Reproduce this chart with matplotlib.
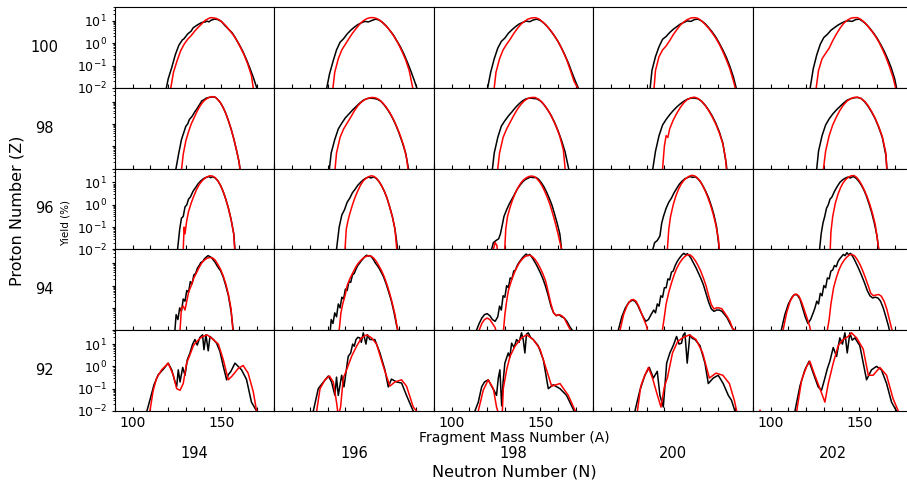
import matplotlib
matplotlib.use('Agg')
import matplotlib.pyplot as plt
from matplotlib.ticker import MultipleLocator, LogLocator, NullFormatter

proton_numbers = [100, 98, 96, 94, 92]
neutron_numbers = [194, 196, 198, 200, 202]
xtick_labels = ['100', '150']

# yields (%) vs fragment mass A, black = measured-like curve, red = second curve
z100_n194_black = [[119, 0.01], [120, 0.025], [122, 0.08], [124, 0.3], [126, 0.8], [128, 1.4], [129, 1.6], [131, 2.6],
                   [133, 3.5], [134, 4.8], [135, 5.5], [137, 7], [139, 8.5], [141, 9], [142, 9.8], [143, 9],
                   [144, 10.5], [146, 12], [148, 11.5], [150, 9.5], [152, 6.2], [154, 4.3], [156, 3.0], [158, 1.7],
                   [160, 0.9], [162, 0.45], [164, 0.2], [166, 0.08], [168, 0.03], [170, 0.01]]
z100_n194_red = [[121.5, 0.01], [123, 0.05], [125, 0.16], [127, 0.45], [129, 0.9], [131, 1.5], [133, 2.2], [135, 3.5],
                 [137, 5.2], [139, 7.5], [141, 10.7], [143, 13], [144, 14], [146, 13.5], [147, 13], [149, 11],
                 [151, 8], [153, 5.5], [155, 3.5], [157, 2.2], [159, 1.2], [161, 0.6], [163, 0.28], [165, 0.11],
                 [167, 0.035], [168, 0.01]]
z100_n196_black = [[119.5, 0.01], [121, 0.04], [123, 0.15], [125, 0.5], [127, 1.1], [129, 1.6], [131, 2.6], [133, 3.8],
                   [135, 5.2], [137, 6.8], [139, 8.2], [141, 9.5], [143, 9], [145, 10.5], [147, 12], [149, 11],
                   [151, 8.5], [153, 6], [155, 3.8], [157, 2.4], [159, 1.3], [161, 0.7], [163, 0.33], [165, 0.14],
                   [167, 0.055], [169, 0.02], [170.3, 0.01]]
z100_n196_red = [[123, 0.01], [124, 0.05], [126, 0.2], [128, 0.5], [130, 0.9], [132, 1.6], [134, 2.8], [136, 4.5],
                 [138, 7], [140, 10], [142, 12.5], [144, 14], [146, 14], [148, 12.5], [150, 10], [152, 7],
                 [154, 4.8], [156, 3], [158, 1.7], [160, 0.9], [162, 0.42], [164, 0.18], [166, 0.06], [168, 0.01]]
z100_n198_black = [[120.3, 0.01], [122, 0.05], [124, 0.2], [126, 0.6], [128, 1.2], [130, 1.7], [132, 2.8], [134, 4],
                   [136, 5.5], [138, 7.2], [140, 8.5], [142, 9.8], [144, 9.2], [146, 11], [148, 12], [150, 10.5],
                   [152, 8], [154, 5.5], [156, 3.5], [158, 2.1], [160, 1.2], [162, 0.6], [164, 0.28], [166, 0.12],
                   [168, 0.045], [170, 0.018], [171.4, 0.01]]
z100_n198_red = [[124, 0.01], [125, 0.05], [127, 0.2], [129, 0.5], [131, 0.9], [133, 1.5], [135, 2.7], [137, 4.5],
                 [139, 7], [141, 9.5], [143, 12], [145, 13.5], [147, 14], [149, 12.5], [151, 9.5], [153, 6.8],
                 [155, 4.5], [157, 2.8], [159, 1.6], [161, 0.85], [163, 0.4], [165, 0.17], [167, 0.06],
                 [169, 0.02], [171, 0.01]]
z100_n200_black = [[122, 0.01], [123, 0.06], [125, 0.25], [127, 0.7], [129, 1.5], [131, 2], [133, 3], [135, 4.2],
                   [137, 5.5], [139, 7.2], [141, 8.5], [143, 10], [145, 9.5], [147, 11.5], [149, 12], [151, 10],
                   [153, 7.5], [155, 5], [157, 3.2], [159, 1.9], [161, 1.0], [163, 0.5], [165, 0.23], [167, 0.09],
                   [169, 0.03], [170.5, 0.01]]
z100_n200_red = [[124.2, 0.01], [125, 0.06], [127, 0.25], [129, 0.5], [131, 0.75], [133, 1.3], [135, 2.4], [137, 4],
                 [139, 6.5], [141, 9], [143, 11.5], [145, 13.5], [147, 14], [149, 13], [151, 10], [153, 7],
                 [155, 4.7], [157, 2.9], [159, 1.7], [161, 0.9], [163, 0.42], [165, 0.18], [167, 0.07],
                 [169, 0.02], [170, 0.01]]
z100_n202_black = [[122.3, 0.01], [124, 0.07], [126, 0.3], [128, 0.9], [130, 1.8], [132, 2.5], [134, 3.8], [136, 5],
                   [138, 6.5], [140, 8], [142, 9.5], [144, 10], [146, 9.5], [148, 11.5], [150, 12], [152, 9.5],
                   [154, 7], [156, 4.6], [158, 2.9], [160, 1.7], [162, 0.9], [164, 0.45], [166, 0.2], [168, 0.08],
                   [170, 0.025], [171, 0.01]]
z100_n202_red = [[125.7, 0.01], [127, 0.06], [129, 0.2], [131, 0.35], [133, 0.6], [135, 1.3], [137, 2.5], [139, 4.5],
                 [141, 7.5], [143, 10.5], [145, 13], [147, 14], [149, 14], [151, 11.5], [153, 8.5], [155, 5.6],
                 [157, 3.5], [159, 2.1], [161, 1.15], [163, 0.55], [165, 0.24], [167, 0.09], [169, 0.03],
                 [170.5, 0.01]]

z98_n194_black = [[124.4, 0.01], [126, 0.05], [127.5, 0.2], [128.5, 0.35], [130, 0.8], [131, 1.0], [132, 1.6],
                  [133.5, 2.2], [135, 3.5], [136, 4.5], [137.5, 7], [139, 11], [140, 12], [141.5, 14.5], [143, 15.5],
                  [144.5, 16], [146, 16.5], [147, 15], [148, 12.5], [149.5, 9], [151, 5.5], [152.5, 3], [154, 1.4],
                  [155.5, 0.6], [157, 0.22], [158.5, 0.07], [160, 0.02], [160.5, 0.01]]
z98_n194_red = [[127.6, 0.01], [128.5, 0.044], [130, 0.18], [131.5, 0.45], [133, 1.0], [134.5, 1.8], [136, 3.3],
                [137.5, 5.5], [139, 8.4], [140.5, 11.5], [142, 14], [143.5, 16], [145, 17], [146.5, 16], [148, 12.5],
                [149.5, 9], [151, 5.5], [152.5, 3], [154, 1.4], [155.5, 0.6], [157, 0.22], [158.5, 0.07],
                [160, 0.02], [160.5, 0.01]]
z98_n196_black = [[121, 0.01], [122, 0.05], [124, 0.2], [126, 0.6], [128, 1.1], [130, 1.9], [132, 2.8], [134, 4.2],
                  [136, 6], [138, 8.5], [140, 11.5], [142, 13.5], [144, 14.5], [146, 14], [148, 13], [150, 10.5],
                  [152, 7], [154, 4.2], [156, 2.3], [158, 1.1], [160, 0.45], [162, 0.16], [164, 0.05], [165.6, 0.01]]
z98_n196_red = [[124.2, 0.01], [125, 0.05], [127, 0.25], [129, 0.6], [131, 1.1], [133, 2.0], [135, 3.8], [137, 6.5],
                [139, 9.5], [141, 12.5], [143, 14.5], [145, 15.5], [147, 15], [149, 12.5], [151, 9], [153, 5.8],
                [155, 3.3], [157, 1.7], [159, 0.75], [161, 0.3], [163, 0.1], [164.5, 0.03], [165.3, 0.01]]
z98_n198_black = [[123, 0.01], [124, 0.05], [126, 0.25], [128, 0.8], [130, 1.4], [132, 2.3], [134, 3.5], [136, 5.5],
                  [138, 8], [140, 11], [142, 13.5], [144, 14.5], [146, 14], [148, 13.5], [150, 11], [152, 7.5],
                  [154, 4.5], [156, 2.5], [158, 1.2], [160, 0.5], [162, 0.18], [164, 0.055], [166, 0.01]]
z98_n198_red = [[126, 0.01], [127, 0.05], [129, 0.25], [131, 0.6], [133, 1.2], [135, 2.4], [137, 4.5], [139, 7.5],
                [141, 11], [143, 14], [145, 15.5], [147, 15.5], [149, 13], [151, 9.5], [153, 6], [155, 3.4],
                [157, 1.7], [159, 0.75], [161, 0.28], [163, 0.07], [164, 0.01]]
z98_n200_black = [[123.5, 0.01], [125, 0.06], [127, 0.3], [129, 0.9], [131, 1.6], [133, 2.6], [135, 4], [137, 5.8],
                  [139, 8], [141, 10.5], [143, 13], [145, 14.5], [147, 14.5], [149, 13.5], [151, 10.5], [153, 7],
                  [155, 4.2], [157, 2.3], [159, 1.1], [161, 0.45], [163, 0.14], [165, 0.015], [165.2, 0.01]]
z98_n200_red = [[129, 0.01], [130, 0.1], [131, 0.3], [132, 0.25], [133, 0.6], [135, 1.5], [137, 3], [139, 5.5],
                [141, 9], [143, 12.5], [145, 15], [147, 16], [149, 14], [151, 10.5], [153, 6.8], [155, 4],
                [157, 2.1], [159, 1.0], [161, 0.4], [163, 0.13], [164.5, 0.03], [165, 0.01]]
z98_n202_black = [[126, 0.01], [127, 0.06], [129, 0.3], [131, 0.9], [133, 1.7], [135, 2.8], [137, 4.2], [139, 6],
                  [141, 8.5], [143, 11.5], [145, 13.5], [147, 15], [149, 15.5], [151, 14], [153, 10], [155, 6.2],
                  [157, 3.4], [159, 1.7], [161, 0.7], [163, 0.25], [165, 0.04], [165.6, 0.01]]
z98_n202_red = [[129.8, 0.01], [131, 0.06], [133, 0.3], [135, 0.9], [137, 2.0], [139, 4], [141, 7], [143, 10.5],
                [145, 13.5], [147, 15.5], [149, 16], [151, 14], [153, 10.5], [155, 6.6], [157, 3.6], [159, 1.8],
                [161, 0.75], [163, 0.27], [165, 0.05], [165.5, 0.01]]

z96_n194_black = [[125.3, 0.01], [126.5, 0.08], [127.5, 0.25], [128.5, 0.3], [129.5, 0.8], [130.5, 1.0], [131.5, 1.8],
                  [132.5, 2.2], [134, 4], [135.5, 6], [137, 9], [138.5, 12], [140, 15], [141.5, 17], [143, 18.5],
                  [144, 16.5], [145, 18], [146.5, 16], [148, 12], [149.5, 7.5], [151, 4], [152.5, 1.8], [154, 0.7],
                  [155.5, 0.22], [157, 0.05], [157.7, 0.01]]
z96_n194_red = [[128.5, 0.01], [129, 0.1], [129.5, 0.05], [130.5, 0.2], [131.5, 0.5], [133, 1.2], [134.5, 2.5],
                [136, 4.8], [137.5, 8], [139, 11.5], [140.5, 15], [142, 18], [143.5, 20], [145, 19.5], [146.5, 16.5],
                [148, 12], [149.5, 7.5], [151, 4], [152.5, 1.8], [154, 0.7], [155.5, 0.22], [157, 0.05],
                [157.5, 0.01]]
z96_n196_black = [[125, 0.01], [126.5, 0.1], [128, 0.35], [129.5, 0.6], [131, 1.3], [132.5, 2], [134, 3.5],
                  [135.5, 5], [137, 7.5], [138.5, 10], [140, 13], [141.5, 15.5], [143, 17.5], [144.5, 16],
                  [146, 18], [147.5, 15], [149, 11], [150.5, 7], [152, 4], [153.5, 2], [155, 0.8], [156.5, 0.3],
                  [158, 0.08], [159.5, 0.01]]
z96_n196_red = [[129.8, 0.01], [130.5, 0.08], [131.5, 0.2], [132.5, 0.4], [134, 1.0], [135.5, 2.2], [137, 4.2],
                [138.5, 7.5], [140, 11.5], [141.5, 15], [143, 18], [144.5, 20], [146, 19], [147.5, 15.5], [149, 11],
                [150.5, 7], [152, 4], [153.5, 2], [155, 0.8], [156.5, 0.3], [158, 0.08], [159, 0.01]]
z96_n198_black = [[122.5, 0.01], [123.5, 0.02], [125, 0.025], [126.5, 0.03], [127.5, 0.05], [128.5, 0.12],
                  [129.5, 0.3], [131, 0.6], [132.5, 1.1], [134, 1.8], [135.5, 3], [137, 5], [138.5, 7.5], [140, 10.5],
                  [141.5, 13.5], [143, 15.5], [144.5, 17.5], [146, 16.5], [147.5, 17], [149, 14], [150.5, 10],
                  [152, 6.5], [153.5, 3.8], [155, 2], [156.5, 1], [158, 0.4], [159.5, 0.15], [161, 0.05],
                  [162, 0.01]]
z96_n198_red = [[123.5, 0.01], [124.5, 0.02], [125.5, 0.015], [126, 0.006], [129.8, 0.006], [130.5, 0.08],
                [131.5, 0.3], [133, 0.8], [134.5, 1.8], [136, 3.5], [137.5, 6], [139, 9.5], [140.5, 13], [142, 16],
                [143.5, 18.5], [145, 19.5], [146.5, 18.5], [148, 15], [149.5, 11], [151, 7], [152.5, 4], [154, 2.1],
                [155.5, 1], [157, 0.4], [158.5, 0.15], [160, 0.05], [161.5, 0.015], [162, 0.01]]
z96_n200_black = [[123.5, 0.01], [124.5, 0.02], [126, 0.025], [127.5, 0.04], [128.5, 0.15], [129.5, 0.3], [131, 0.7],
                  [132.5, 1.3], [134, 2.0], [135.5, 3.5], [137, 5.5], [138.5, 8.5], [140, 11.5], [141.5, 14.5],
                  [143, 16.5], [144.5, 18.5], [146, 17], [147.5, 18], [149, 14.5], [150.5, 10.5], [152, 6.5],
                  [153.5, 3.8], [155, 2], [156.5, 0.9], [158, 0.35], [159.5, 0.1], [161, 0.01]]
z96_n200_red = [[131.7, 0.01], [132.5, 0.08], [133.5, 0.3], [135, 1.0], [136.5, 2.5], [138, 5], [139.5, 8.5],
                [141, 12.5], [142.5, 16], [144, 19], [145.5, 21], [147, 20], [148.5, 16.5], [150, 12], [151.5, 7.5],
                [153, 4.3], [154.5, 2.2], [156, 1.0], [157.5, 0.4], [159, 0.13], [160.5, 0.03], [161, 0.01]]
z96_n202_black = [[127.6, 0.01], [128.5, 0.05], [129.5, 0.15], [130.5, 0.3], [131.5, 0.7], [132.5, 1.0], [133.5, 1.8],
                  [134.5, 2.2], [136, 4], [137.5, 6.5], [139, 10], [140.5, 13], [142, 15.5], [143.5, 17.5], [145, 16],
                  [146.5, 18.5], [148, 16], [149.5, 12], [151, 8], [152.5, 4.8], [154, 2.5], [155.5, 1.1],
                  [157, 0.45], [158.5, 0.15], [160, 0.04], [160.9, 0.01]]
z96_n202_red = [[133.6, 0.01], [134, 0.06], [135, 0.3], [136.5, 1.2], [138, 3], [139.5, 6], [141, 10], [142.5, 14],
                [144, 17.5], [145.5, 20], [147, 20.5], [148.5, 17], [150, 12], [151.5, 7.5], [153, 4.3], [154.5, 2.2],
                [156, 1.0], [157.5, 0.4], [159, 0.13], [160.5, 0.02], [161, 0.01]]

z94_n194_black = [[123.8, 0.01], [124.5, 0.05], [125.5, 0.03], [126.5, 0.1], [127.5, 0.07], [128.5, 0.25],
                  [129.5, 0.2], [130.5, 0.6], [131.5, 0.5], [132.5, 1.5], [133.5, 1.2], [134.5, 3], [135.5, 3.5],
                  [136.5, 6], [137.5, 8], [138.5, 11], [139.5, 12], [140.5, 16], [141.5, 19], [142.5, 22],
                  [143.5, 20], [144.5, 18], [145.5, 14], [146.5, 11], [147.5, 8], [148.5, 6], [149.5, 4.7],
                  [151, 2.5], [152.5, 1.0], [154, 0.35], [155.5, 0.07], [156.7, 0.01]]
z94_n194_red = [[126.7, 0.01], [127.5, 0.1], [128.5, 0.12], [129.5, 0.08], [130.5, 0.2], [131.5, 0.5], [133, 1.0],
                [134.5, 2.2], [136, 3.8], [137.5, 6.6], [139, 10.5], [140.5, 14], [142, 17], [143.5, 18],
                [145, 17.5], [146.5, 14], [148, 9], [149.5, 5.5], [151, 2.8], [152.5, 1.2], [154, 0.4],
                [155.5, 0.09], [156.5, 0.01]]
z94_n196_black = [[121.5, 0.01], [122, 0.03], [123, 0.02], [124, 0.06], [125, 0.04], [126, 0.15], [127, 0.1],
                  [128, 0.3], [129, 0.25], [130, 0.7], [131, 0.6], [132, 1.5], [133, 1.4], [134, 3], [135, 3.5],
                  [136, 5.5], [137, 8], [138, 10], [139, 13], [140, 16], [141, 20], [142, 23], [143, 21], [144, 22],
                  [145, 18], [146, 14], [147, 10], [148, 8], [149, 6], [150, 4.3], [151.5, 2.5], [153, 1.2],
                  [154.5, 0.5], [156, 0.2], [157.5, 0.06], [159, 0.015], [159.6, 0.01]]
z94_n196_red = [[126.5, 0.01], [127.5, 0.06], [128.5, 0.15], [130, 0.4], [131, 1.0], [132.5, 2], [134, 3.5],
                [135.5, 6], [137, 9.5], [138.5, 13], [140, 17], [141.5, 20], [143, 22], [144.5, 21], [146, 17],
                [147.5, 12], [149, 7.5], [150.5, 4.5], [152, 2.4], [153.5, 1.1], [155, 0.45], [156.5, 0.16],
                [158, 0.05], [159.5, 0.01]]
z94_n198_black = [[114, 0.01], [115.5, 0.02], [117, 0.035], [118.5, 0.05], [120, 0.055], [121.5, 0.045], [123, 0.03],
                  [124.5, 0.025], [126, 0.04], [127, 0.12], [128, 0.08], [129, 0.35], [130, 0.3], [131, 1.0],
                  [132, 0.8], [133, 2.2], [134, 2], [135, 4.5], [136, 5], [137, 8], [138, 11], [139, 14], [140, 18],
                  [141, 22], [142, 26], [143, 22], [144, 25], [145, 20], [146, 15], [147, 11], [148, 8], [149, 5.5],
                  [150, 3.8], [151.5, 2], [153, 0.9], [154.5, 0.35], [156, 0.12], [157.5, 0.06], [159, 0.045],
                  [160.5, 0.05], [162, 0.04], [163.5, 0.035], [165, 0.025], [166.5, 0.015], [168, 0.01]]
z94_n198_red = [[115.5, 0.01], [117, 0.02], [118.5, 0.03], [120, 0.035], [121.5, 0.03], [123, 0.02], [124.5, 0.013],
                [125.5, 0.006], [129, 0.006], [130, 0.05], [131, 0.2], [132, 0.6], [133.5, 1.5], [135, 3.2],
                [136.5, 6], [138, 10], [139.5, 14.5], [141, 19], [142.5, 22], [144, 23], [145.5, 20], [147, 15],
                [148.5, 10], [150, 6], [151.5, 3.3], [153, 1.6], [154.5, 0.5], [156, 0.15], [157.5, 0.06],
                [159, 0.045], [160.5, 0.05], [162, 0.045], [163.5, 0.035], [165, 0.02], [166.5, 0.012], [167, 0.01]]
z94_n200_black = [[104, 0.01], [106, 0.04], [108, 0.1], [110, 0.18], [112, 0.22], [113.5, 0.2], [115, 0.13],
                  [116.5, 0.07], [118, 0.04], [119.5, 0.025], [121, 0.03], [122.5, 0.05], [124, 0.08], [125, 0.06],
                  [126, 0.15], [127, 0.12], [128, 0.35], [129, 0.3], [130, 0.8], [131, 0.8], [132, 2], [133, 1.8],
                  [134, 4], [135, 4.5], [136, 7.5], [137, 11], [138, 15], [139, 19], [140, 24], [141, 28], [142, 24],
                  [143, 27], [144, 22], [145, 17], [146, 12], [147, 8.5], [148, 6], [149, 4], [150.5, 2.2],
                  [152, 1.1], [153.5, 0.45], [155, 0.18], [156.5, 0.09], [158, 0.07], [159.5, 0.08], [161, 0.08],
                  [162.5, 0.07], [164, 0.05], [165.5, 0.035], [167, 0.02], [168.5, 0.012], [169.5, 0.01]]
z94_n200_red = [[105, 0.01], [107, 0.05], [109, 0.13], [111, 0.22], [112.5, 0.24], [114, 0.2], [115.5, 0.12],
                [117, 0.06], [118.5, 0.03], [120, 0.015], [121, 0.006], [128.5, 0.006], [130, 0.04], [131, 0.15],
                [132.5, 0.5], [134, 1.3], [135.5, 3], [137, 6], [138.5, 10], [140, 15], [141.5, 20], [143, 24],
                [144.5, 24], [146, 19], [147.5, 13], [149, 8], [150.5, 4.5], [152, 2.2], [153.5, 1.0], [155, 0.35],
                [156.5, 0.14], [158, 0.09], [159.5, 0.1], [161, 0.1], [162.5, 0.09], [164, 0.06], [165.5, 0.04],
                [167, 0.025], [168.5, 0.012], [170, 0.01]]
z94_n202_black = [[106, 0.01], [108, 0.05], [110, 0.15], [112, 0.3], [113.5, 0.4], [115, 0.38], [116.5, 0.25],
                  [118, 0.1], [119.5, 0.04], [121, 0.02], [122.5, 0.03], [124, 0.06], [125, 0.1], [126, 0.2],
                  [127, 0.15], [128, 0.45], [129, 0.35], [130, 1.0], [131, 0.8], [132, 2.2], [133, 2], [134, 4.5],
                  [135, 5], [136, 8], [137, 7], [138, 12], [139, 16], [140, 20], [141, 25], [142, 22], [143, 30],
                  [144, 24], [145, 28], [146, 22], [147, 16], [148, 11], [149, 7.5], [150, 5], [151.5, 2.6],
                  [153, 1.3], [154.5, 0.6], [156, 0.35], [157.5, 0.28], [159, 0.3], [160.5, 0.28], [162, 0.2],
                  [163.5, 0.1], [165, 0.04], [166.5, 0.015], [167, 0.01]]
z94_n202_red = [[107, 0.01], [109, 0.06], [111, 0.2], [113, 0.38], [114.5, 0.42], [116, 0.33], [117.5, 0.18],
                [119, 0.08], [120.5, 0.035], [122, 0.015], [123, 0.006], [131.5, 0.006], [133, 0.03], [134, 0.15],
                [135.5, 0.8], [137, 2.2], [138.5, 5], [140, 9], [141.5, 14], [143, 19], [144.5, 24], [146, 25],
                [147.5, 21], [149, 14], [150.5, 8.5], [152, 4.5], [153.5, 2.2], [155, 1.0], [156.5, 0.45],
                [158, 0.35], [159.5, 0.38], [161, 0.4], [162.5, 0.33], [164, 0.2], [165.5, 0.09], [167, 0.03],
                [168.5, 0.01]]

z92_n194_black = [[108, 0.01], [109.7, 0.031], [112, 0.15], [114.4, 0.42], [117.3, 0.75], [120, 1.4], [122, 0.7],
                  [123.8, 0.21], [124.8, 0.125], [125.7, 0.7], [126.7, 0.2], [128.2, 0.9], [129.5, 0.4], [130.8, 2],
                  [132.3, 4], [133.8, 10], [135.1, 16], [136.4, 9], [137.9, 20], [139.4, 26], [140.2, 5.6],
                  [141.3, 26], [142.6, 5], [143.6, 22], [145.5, 16], [147.3, 11], [149.2, 4.7], [151.1, 1.0],
                  [153, 0.25], [153.9, 0.42], [155.4, 0.6], [157.7, 1.4], [159.5, 1.0], [161.4, 0.7], [164.2, 0.26],
                  [167, 0.025], [169.9, 0.01]]
z92_n194_red = [[109.7, 0.01], [111.6, 0.087], [113.5, 0.3], [116.3, 0.7], [120, 1.4], [122.9, 0.4], [124.8, 0.1],
                [126.7, 0.085], [128.5, 0.17], [130.4, 1.4], [132.3, 3.3], [134.2, 8.5], [136.1, 13], [138.9, 21],
                [142, 26], [145.5, 16], [148.3, 10], [151.1, 2], [153.9, 0.25], [155.8, 0.35], [159.5, 0.8],
                [162.3, 1.1], [165.1, 0.5], [168, 0.074], [169.9, 0.01]]
z92_n196_black = [[111.9, 0.01], [114.7, 0.1], [117.6, 0.2], [120.4, 0.37], [122.2, 0.2], [124.1, 0.05], [125, 0.33],
                  [126, 0.05], [127.9, 0.4], [129.2, 0.12], [131.6, 2.8], [133, 4], [134.1, 10], [135, 8], [136, 16],
                  [137, 20], [138.2, 19], [139, 12], [140.1, 32], [141.6, 10], [142.5, 26], [143.8, 16],
                  [146.6, 16], [149.5, 4], [152.3, 0.7], [154.2, 0.12], [156, 0.27], [158.9, 0.2], [161.7, 0.18],
                  [164.5, 0.05], [167.3, 0.015], [168.3, 0.01]]
z92_n196_red = [[113.8, 0.01], [115.7, 0.1], [118.5, 0.25], [121, 0.37], [123.2, 0.2], [125, 0.025], [126, 0.006],
                [127.3, 0.015], [128.8, 0.3], [130.7, 0.7], [133.5, 2.8], [136.3, 8], [139.1, 19], [142, 26],
                [144.8, 19], [147.6, 10], [151.4, 1], [155.1, 0.13], [157.9, 0.2], [161.7, 0.25], [164.5, 0.13],
                [168.3, 0.015], [170.1, 0.01]]
z92_n198_black = [[113.1, 0.01], [115, 0.025], [116.9, 0.12], [118.5, 0.2], [120.6, 0.25], [122.5, 0.13], [124, 0.08],
                  [125.3, 0.05], [126.3, 0.3], [127.2, 0.7], [128.2, 0.017], [129, 0.2], [130, 1.4], [131.9, 4],
                  [132.8, 2.5], [133.8, 11], [135.2, 7], [136.6, 16], [138, 12], [139.4, 32], [140.4, 15],
                  [141.3, 4], [142.2, 28], [143.2, 32], [144.5, 20], [146, 16], [148.8, 8.5], [151.7, 2],
                  [154.5, 0.1], [157.3, 0.15], [161.1, 0.1], [164.8, 0.05], [168.6, 0.012], [169, 0.01]]
z92_n198_red = [[115, 0.01], [117.8, 0.085], [120.6, 0.25], [123.5, 0.1], [125.3, 0.015], [126.8, 0.006],
                [128.5, 0.006], [129.1, 0.1], [131, 0.7], [132.9, 2.8], [135.7, 8], [139.4, 19], [142.3, 26],
                [146, 16], [149.8, 6], [153.5, 0.7], [156.4, 0.13], [161.1, 0.17], [165.8, 0.05], [169.5, 0.011],
                [170, 0.01]]
z92_n200_black = [[113.4, 0.01], [116.2, 0.085], [119, 0.4], [121.5, 0.9], [123.8, 0.3], [126, 0.6], [127.5, 0.05],
                  [129.4, 0.015], [131.3, 1.4], [133.1, 4], [135, 8.5], [136.9, 22], [138.3, 10], [139.7, 11],
                  [140.6, 25], [141.6, 32], [142.9, 1.4], [144.4, 26], [145.8, 18], [147.3, 16], [150.1, 8.5],
                  [152.9, 1.4], [154.8, 0.17], [157.6, 0.3], [160.4, 0.4], [163.2, 0.17], [166.1, 0.05],
                  [167.9, 0.03], [169.8, 0.01]]
z92_n200_red = [[114.8, 0.01], [116.7, 0.13], [118.6, 0.33], [121, 0.9], [123.3, 0.3], [126.1, 0.05], [128.1, 0.015],
                [130, 0.12], [131.8, 0.33], [134.6, 4], [137.5, 13], [140.3, 19], [144.1, 26], [147.9, 16],
                [151.6, 4], [155.4, 0.3], [159.2, 0.5], [163, 0.4], [166.7, 0.17], [169.5, 0.03], [170.8, 0.01]]
z92_n202_black = [[113.7, 0.01], [116.5, 0.13], [119.3, 0.7], [121.7, 1.7], [124, 0.5], [126.8, 0.12], [128.7, 0.085],
                  [130.6, 0.3], [132, 0.8], [133.4, 1.7], [135.3, 7], [137.2, 2.8], [139, 19], [140.5, 10],
                  [141.9, 32], [143.2, 4], [144.7, 32], [146, 15], [147.5, 19], [150.3, 8.5], [154.1, 0.25],
                  [156.9, 0.7], [159.7, 1.0], [162.5, 0.7], [165.4, 0.17], [168.2, 0.025], [171, 0.01]]
z92_n202_red = [[93.5, 0.005], [94, 0.011], [94.5, 0.005], [114.6, 0.005], [114.7, 0.01], [117.5, 0.25],
                [120.3, 1.0], [122.1, 1.7], [124.9, 0.4], [127.8, 0.1], [130.6, 0.025], [132.5, 0.17], [135.3, 1.4],
                [138.1, 8.5], [140.9, 16], [143.7, 22], [145.6, 32], [148.5, 19], [152.2, 6], [155.1, 0.4],
                [157.8, 0.4], [161.6, 0.9], [165.4, 0.4], [169.1, 0.035], [172, 0.01]]


fig, axes = plt.subplots(5, 5, figsize=(9.07, 4.83), dpi=100, sharex=True, sharey=True,
                         gridspec_kw={'hspace': 0, 'wspace': 0})
fig.subplots_adjust(left=0.1268, right=1.006, top=0.9855, bottom=0.1491)

for i, z in enumerate(proton_numbers):
    for j, n in enumerate(neutron_numbers):
        ax = axes[i, j]
        blk = globals()['z%d_n%d_black' % (z, n)]
        red = globals()['z%d_n%d_red' % (z, n)]
        ax.plot([p[0] for p in blk], [p[1] for p in blk], color='k', lw=1.1)
        ax.plot([p[0] for p in red], [p[1] for p in red], color='r', lw=1.1)

        ax.set_yscale('log')
        ax.set_ylim(0.01, 42)
        ax.set_xlim(90, 180)
        ax.xaxis.set_major_locator(MultipleLocator(50))
        ax.xaxis.set_minor_locator(MultipleLocator(10))
        ax.tick_params(axis='x', which='both', direction='in', length=2.7, width=0.8,
                       top=False, labelsize=10)
        ax.yaxis.set_major_locator(LogLocator(base=10, numticks=10))
        ax.yaxis.set_minor_locator(LogLocator(base=10, subs=range(2, 10), numticks=10))
        ax.yaxis.set_minor_formatter(NullFormatter())
        if j == 0:
            ax.tick_params(axis='y', which='major', direction='out', length=2.4, labelsize=9, pad=3.5)
            ax.tick_params(axis='y', which='minor', direction='out', length=1.4)
            if i in (1, 3):
                ax.tick_params(axis='y', labelleft=False)
        else:
            ax.tick_params(axis='y', which='both', left=False, labelleft=False)
        if i == 4:
            if j in (0, 2, 4):
                ax.set_xticks([100, 150])
                ax.set_xticklabels(xtick_labels)
            else:
                ax.tick_params(axis='x', labelbottom=False)

        # row / column labels
        if j == 0:
            box = ax.get_position()
            fig.text(0.0485, (box.y0 + box.y1) / 2, str(z), fontsize=10.5, ha='center', va='center')
        if i == 4:
            box = ax.get_position()
            fig.text((box.x0 + box.x1) / 2, 0.062, str(n), fontsize=10.5, ha='center', va='center')

fig.text(0.0187, 0.563, 'Proton Number (Z)', rotation=90, fontsize=11.5, ha='center', va='center')
fig.text(0.0728, 0.538, 'Yield (%)', rotation=90, fontsize=7.5, ha='center', va='center')
fig.text(0.5667, 0.0932, 'Fragment Mass Number (A)', fontsize=10, ha='center', va='center')
fig.text(0.5667, 0.0228, 'Neutron Number (N)', fontsize=11.5, ha='center', va='center')

plt.savefig('out.png', dpi=100)
